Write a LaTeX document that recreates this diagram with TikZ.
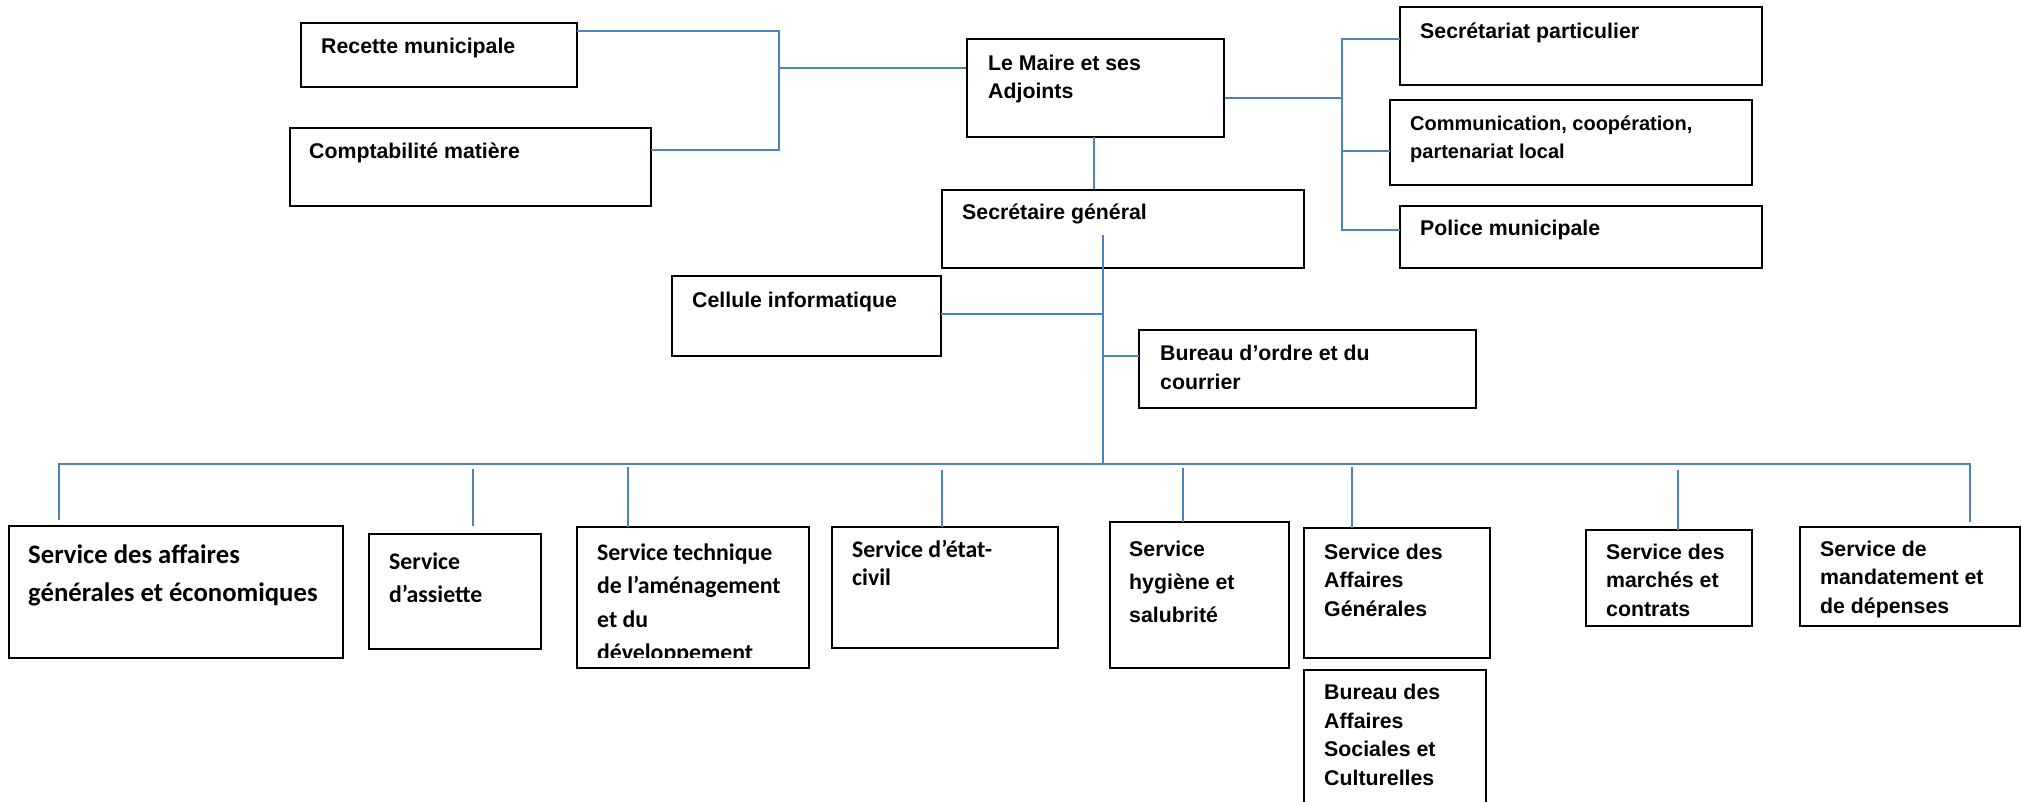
\documentclass[tikz,border=0pt]{standalone}
\usepackage{fontspec}
\setmainfont{Liberation Sans}
\newfontfamily\calfam{Carlito}
\usetikzlibrary{fit}
\definecolor{lblue}{HTML}{4F81BD}
\newcommand\mylines[1]{\begin{tabular}[t]{@{}l@{}}#1\end{tabular}}
\tikzset{
  box/.style={draw=black, line width=1.8pt, inner sep=0pt, rectangle},
  con/.style={draw=lblue, line width=2pt},
  atxt/.style={anchor=base west, inner sep=0pt, font=\fontsize{21.3}{28.5}\selectfont\bfseries},
  ctxt/.style={anchor=base west, inner sep=0pt, font=\calfam\fontsize{23.8}{33}\selectfont\bfseries},
}
\begin{document}
\begin{tikzpicture}[x=1pt,y=-1pt]
\clip (0,0) rectangle (2022,802);
\fill[white] (0,0) rectangle (2022,802);

% boxes
\node[box, fit={(301,23)(577,87)}] (rec) {};
\node[box, fit={(290,128)(651,206)}] (cmp) {};
\node[box, fit={(967,39)(1224,137)}] (maire) {};
\node[box, fit={(942,190)(1304,268)}] (sg) {};
\node[box, fit={(1400,7)(1762,85)}] (sp) {};
\node[box, fit={(1390,100)(1752,185)}] (com) {};
\node[box, fit={(1400,206)(1762,268)}] (pol) {};
\node[box, fit={(672,276)(941,356)}] (cel) {};
\node[box, fit={(1139,330)(1476,408)}] (bo) {};
\node[box, fit={(9,526)(343,658)}] (b1) {};
\node[box, fit={(369,534)(541,649)}] (b2) {};
\node[box, fit={(577,527)(809,668)}] (b3) {};
\node[box, fit={(832,527)(1058,648)}] (b4) {};
\node[box, fit={(1110,522)(1289,668)}] (b5) {};
\node[box, fit={(1304,528)(1490,658)}] (b6) {};
\node[box, fit={(1304,670)(1486,840)}] (b7) {};
\node[box, fit={(1586,530)(1752,626)}] (b8) {};
\node[box, fit={(1800,527)(2020,626)}] (b9) {};

% texts
\node[atxt] (trec) at (321,54) {\mylines{Recette municipale}};
\node[atxt] (tcmp) at (309,159) {\mylines{Comptabilité matière}};
\node[atxt] (tmaire) at (988,70.5) {\mylines{Le Maire et ses\\Adjoints}};
\node[atxt] (tsg) at (962,220) {\mylines{Secrétaire général}};
\node[atxt] (tsp) at (1420,39) {\mylines{Secrétariat particulier}};
\node[atxt, font=\fontsize{20}{28}\selectfont\bfseries] (tcom) at (1410,130.5) {\mylines{Communication, coopération,\\partenariat local}};
\node[atxt] (tpol) at (1420,236) {\mylines{Police municipale}};
\node[atxt] (tcel) at (692,308) {\mylines{Cellule informatique}};
\node[atxt] (tbo) at (1160,360.5) {\mylines{Bureau d’ordre et du\\courrier}};
\node[ctxt, font=\calfam\fontsize{26.7}{38}\selectfont\bfseries] (tb1) at (28,563) {\mylines{Service des affaires\\générales et économiques}};
\node[ctxt] (tb2) at (389,569) {\mylines{Service\\d’assiette}};
\begin{scope}
  \clip (577,527) rectangle (809,657);
  \node[ctxt, font=\calfam\fontsize{23.8}{33.5}\selectfont\bfseries] (tb3) at (597,560) {\mylines{Service technique\\de l’aménagement\\et du\\développement}};
\end{scope}
\node[ctxt, font=\calfam\fontsize{23.8}{28}\selectfont\bfseries] (tb4) at (852,557) {\mylines{Service d’état-\\civil}};
\node[atxt, font=\fontsize{21.3}{33}\selectfont\bfseries] (tb5) at (1129,556.5) {\mylines{Service\\hygiène et\\salubrité}};
\node[atxt] (tb6) at (1324,559) {\mylines{Service des\\Affaires\\Générales}};
\node[atxt] (tb7) at (1324,699.5) {\mylines{Bureau des\\Affaires\\Sociales et\\Culturelles}};
\node[atxt] (tb8) at (1606,559) {\mylines{Service des\\marchés et\\contrats}};
\node[atxt] (tb9) at (1820,556) {\mylines{Service de\\mandatement et\\de dépenses}};

% connectors top left
\coordinate (jl) at (779,68);
\coordinate (recp) at (577,31);
\coordinate (cmpp) at (651,150);
\draw[con] (recp) -| (jl);
\draw[con] (cmpp) -| (jl);
\draw[con] (jl) -- (jl -| maire.west);

% connectors right
\coordinate (jr) at (1342,98);
\coordinate (spp) at (1400,39);
\coordinate (comp) at (1390,151);
\coordinate (polp) at (1400,230);
\draw[con] (jr -| maire.east) -- (jr);
\draw[con] (spp) -| (jr);
\draw[con] (comp) -| (jr);
\draw[con] (polp) -| (jr);

% maire - sg
\coordinate (msg) at (1094,137);
\draw[con] (msg) -- (msg |- sg.north);

% sg trunk
\coordinate (sgl) at (1103,235);
\coordinate (hub) at (1103,464);
\draw[con] (sgl) -- (hub);
\coordinate (celp) at (941,314);
\draw[con] (celp) -- (celp -| hub);
\coordinate (bop) at (1139,356);
\draw[con] (bop) -- (bop -| hub);

% main line with end drops
\coordinate (db1) at (59,520);
\coordinate (db9) at (1970,522);
\draw[con] (db1) |- (hub) -| (db9);

% other drops
\foreach \n/\x/\ya/\yb in {2/473/469/526, 3/628/467/527, 4/942/470/527, 5/1183/468/522, 6/1352/467/528, 8/1678/470/530}{
  \coordinate (dt\n) at (\x,\ya);
  \coordinate (db\n) at (\x,\yb);
  \draw[con] (dt\n) -- (db\n);
}
\end{tikzpicture}
\end{document}
